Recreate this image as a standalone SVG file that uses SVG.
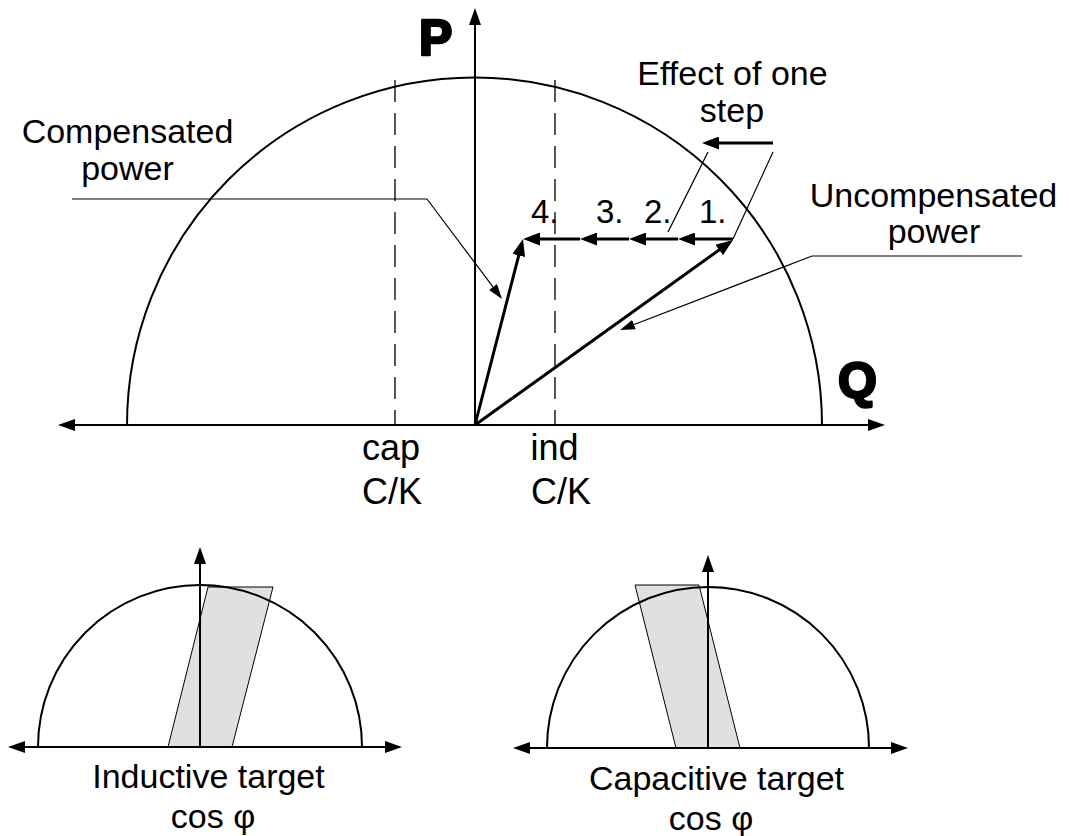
<svg xmlns="http://www.w3.org/2000/svg" width="1069" height="836" viewBox="0 0 1069 836">
<style>
.t{font-family:"Liberation Sans",Arial,sans-serif;fill:#000}
.lbl{font-size:34px;text-anchor:middle}
.ax{font-size:36px}
.num{font-size:33px}
.big{font-size:50px;font-weight:bold;stroke:#000;stroke-width:2.6;stroke-linejoin:round}
.axis{stroke:#000;stroke-width:2;fill:none}
.arc{stroke:#000;stroke-width:2;fill:none}
.dash{stroke:#000;stroke-width:1.3;stroke-dasharray:22 11;fill:none}
.vec{stroke:#000;stroke-width:3;fill:none}
.thin{stroke:#000;stroke-width:1.2;fill:none}
.band{fill:#e0e0e0;stroke:#000;stroke-width:1}
</style>
<defs>
<marker id="mAx" markerUnits="userSpaceOnUse" markerWidth="17" markerHeight="12" refX="5" refY="6" orient="auto-start-reverse" viewBox="0 0 17 12"><path d="M0,0 L17,6 L0,12 z" fill="#000"/></marker>
<marker id="mVec" markerUnits="userSpaceOnUse" markerWidth="17" markerHeight="13" refX="5" refY="6.5" orient="auto" viewBox="0 0 17 13"><path d="M0,0 L17,6.5 L0,13 z" fill="#000"/></marker>
<marker id="mLead" markerUnits="userSpaceOnUse" markerWidth="15" markerHeight="10" refX="4" refY="5" orient="auto" viewBox="0 0 15 10"><path d="M0,0 L15,5 L0,10 z" fill="#000"/></marker>
</defs>

<g id="main-diagram">
  <path id="main-circle" class="arc" d="M127,425 A347,347 0 0 1 822,425"/>
  <line id="cap-limit" class="dash" x1="395" y1="80" x2="395" y2="425"/>
  <line id="ind-limit" class="dash" x1="555" y1="80" x2="555" y2="425"/>
</g>

<g id="connectors">
  <line class="axis" x1="70" y1="425" x2="873" y2="425" marker-start="url(#mAx)" marker-end="url(#mAx)"/>
  <line class="axis" x1="475" y1="425" x2="475" y2="20" marker-end="url(#mAx)"/>
  <line class="vec" x1="475" y1="425" x2="723.25" y2="247" marker-end="url(#mVec)"/>
  <line class="vec" x1="475" y1="425" x2="520" y2="250.6" marker-end="url(#mVec)"/>
  <line class="vec" x1="733" y1="239" x2="690" y2="239" marker-end="url(#mVec)"/>
  <line class="vec" x1="678" y1="239" x2="641" y2="239" marker-end="url(#mVec)"/>
  <line class="vec" x1="629" y1="239" x2="592" y2="239" marker-end="url(#mVec)"/>
  <line class="vec" x1="580" y1="239" x2="535" y2="239" marker-end="url(#mVec)"/>
  <line class="vec" x1="773" y1="143" x2="714" y2="143" marker-end="url(#mVec)"/>
  <line class="thin" x1="708" y1="152" x2="668" y2="232"/>
  <line class="thin" x1="773" y1="152" x2="733" y2="239"/>
  <polyline class="thin" points="72,199 427,199 495.4,290.2" marker-end="url(#mLead)"/>
  <polyline class="thin" points="1022,256 812,256 630.3,326" marker-end="url(#mLead)"/>
</g>

<g id="labels">
  <text class="t big" x="419" y="55">P</text>
  <text class="t big" x="838" y="398">Q</text>
  <text class="t lbl" x="127.5" y="143">Compensated</text>
  <text class="t lbl" x="127.5" y="180">power</text>
  <text class="t lbl" x="732.5" y="85">Effect of one</text>
  <text class="t lbl" x="732" y="122">step</text>
  <text class="t lbl" x="933.5" y="207">Uncompensated</text>
  <text class="t lbl" x="934" y="243">power</text>
  <text class="t ax" x="362" y="460">cap</text>
  <text class="t ax" x="362" y="504">C/K</text>
  <text class="t ax" x="530.5" y="460">ind</text>
  <text class="t ax" x="531" y="504">C/K</text>
  <text class="t num" x="531" y="223">4.</text>
  <text class="t num" x="596" y="223">3.</text>
  <text class="t num" x="644" y="223">2.</text>
  <text class="t num" x="699" y="223">1.</text>
</g>

<g id="inductive-target">
  <polygon class="band" points="168,747 232,747 273,587 208,587"/>
  <path class="arc" d="M38,747 A162,162 0 0 1 362,747"/>
  <line class="axis" x1="20" y1="747" x2="390" y2="747" marker-start="url(#mAx)" marker-end="url(#mAx)"/>
  <line class="axis" x1="200" y1="747" x2="200" y2="559" marker-end="url(#mAx)"/>
  <text class="t lbl" x="208.5" y="788">Inductive target</text>
  <text class="t lbl" x="213" y="828">cos φ</text>
</g>

<g id="capacitive-target">
  <polygon class="band" points="676,748 740,748 699,585 635,585"/>
  <path class="arc" d="M547,748 A161,161 0 0 1 869,748"/>
  <line class="axis" x1="525" y1="748" x2="896" y2="748" marker-start="url(#mAx)" marker-end="url(#mAx)"/>
  <line class="axis" x1="708" y1="748" x2="708" y2="567" marker-end="url(#mAx)"/>
  <text class="t lbl" x="716.5" y="790">Capacitive target</text>
  <text class="t lbl" x="711" y="830">cos φ</text>
</g>
</svg>
